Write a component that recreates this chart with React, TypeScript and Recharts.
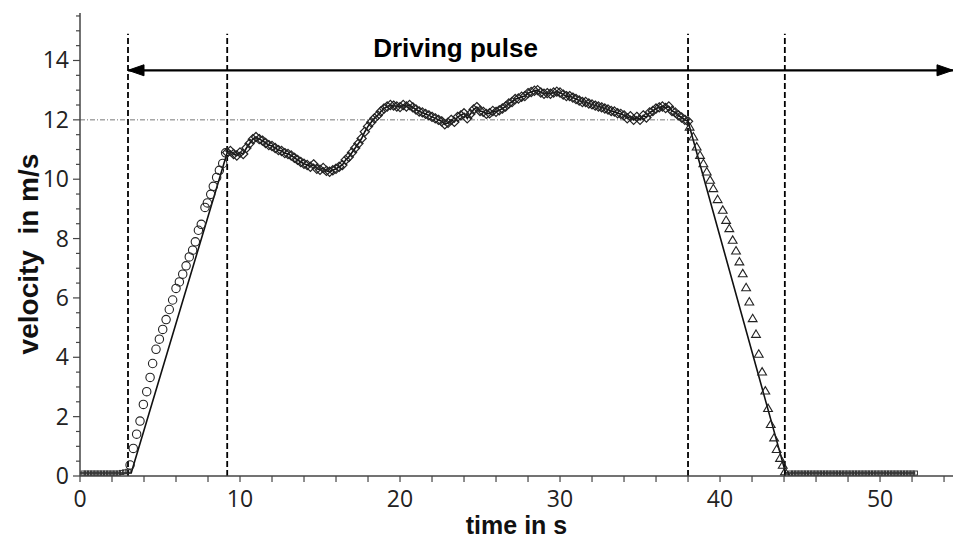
import React from 'react';
import { ComposedChart, Line, Scatter, XAxis, YAxis, ReferenceLine, ReferenceDot } from 'recharts';

// Measured acceleration phase (circles)
const accelT = [3.13, 3.33, 3.54, 3.75, 3.96, 4.17, 4.38, 4.54, 4.75, 4.96, 5.17, 5.38, 5.58, 5.79, 6.0, 6.21, 6.42, 6.63, 6.83, 7.04, 7.21, 7.4, 7.58, 7.81, 7.96, 8.17, 8.33, 8.54, 8.71, 8.92, 9.1];
const accelV = [0.37, 0.93, 1.41, 1.85, 2.41, 2.84, 3.32, 3.79, 4.27, 4.61, 4.94, 5.27, 5.61, 5.93, 6.32, 6.54, 6.8, 7.08, 7.38, 7.61, 7.89, 8.28, 8.48, 9.05, 9.2, 9.49, 9.76, 10.06, 10.3, 10.53, 10.89];

// Measured cruising phase (diamonds)
const cruiseT = [
  9.2, 9.4, 9.6, 9.8, 10.0, 10.2, 10.4, 10.6, 10.8, 11.0, 11.2, 11.4, 11.6, 11.8, 12.0, 12.2, 12.4, 12.6, 12.8, 13.0,
  13.2, 13.4, 13.6, 13.8, 14.0, 14.2, 14.4, 14.6, 14.8, 15.0, 15.2, 15.4, 15.6, 15.8, 16.0, 16.2, 16.4, 16.6, 16.8, 17.0,
  17.2, 17.4, 17.6, 17.8, 18.0, 18.2, 18.4, 18.6, 18.8, 19.0, 19.2, 19.4, 19.6, 19.8, 20.0, 20.2, 20.4, 20.6, 20.8, 21.0,
  21.2, 21.4, 21.6, 21.8, 22.0, 22.2, 22.4, 22.6, 22.8, 23.0, 23.2, 23.4, 23.6, 23.8, 24.0, 24.2, 24.4, 24.6, 24.8, 25.0,
  25.2, 25.4, 25.6, 25.8, 26.0, 26.2, 26.4, 26.6, 26.8, 27.0, 27.2, 27.4, 27.6, 27.8, 28.0, 28.2, 28.4, 28.6, 28.8, 29.0,
  29.2, 29.4, 29.6, 29.8, 30.0, 30.2, 30.4, 30.6, 30.8, 31.0, 31.2, 31.4, 31.6, 31.8, 32.0, 32.2, 32.4, 32.6, 32.8, 33.0,
  33.2, 33.4, 33.6, 33.8, 34.0, 34.2, 34.4, 34.6, 34.8, 35.0, 35.2, 35.4, 35.6, 35.8, 36.0, 36.2, 36.4, 36.6, 36.8, 37.0,
  37.2, 37.4, 37.6, 37.8, 38.0,
];
const cruiseV = [
  10.9, 10.95, 10.85, 10.8, 10.9, 10.85, 11.05, 11.2, 11.35, 11.42, 11.35, 11.3, 11.22, 11.15, 11.12, 11.05, 10.98, 10.95, 10.88, 10.85,
  10.8, 10.72, 10.65, 10.58, 10.52, 10.48, 10.42, 10.5, 10.35, 10.32, 10.38, 10.28, 10.25, 10.3, 10.35, 10.42, 10.48, 10.65, 10.75, 10.9,
  11.05, 11.2, 11.37, 11.6, 11.78, 11.92, 12.05, 12.15, 12.28, 12.38, 12.45, 12.5, 12.48, 12.45, 12.43, 12.5, 12.45, 12.5, 12.42, 12.35,
  12.28, 12.25, 12.2, 12.15, 12.1, 12.05, 12.0, 11.95, 11.85, 11.9, 12.0, 11.93, 12.1, 12.15, 12.22, 12.05, 12.2, 12.35, 12.43, 12.3,
  12.27, 12.2, 12.22, 12.3, 12.27, 12.32, 12.38, 12.45, 12.55, 12.6, 12.7, 12.72, 12.78, 12.8, 12.9, 12.94, 12.98, 13.0, 12.92, 12.88,
  12.9, 12.88, 12.92, 12.95, 12.92, 12.85, 12.8, 12.8, 12.75, 12.7, 12.65, 12.6, 12.6, 12.55, 12.52, 12.48, 12.45, 12.42, 12.38, 12.35,
  12.3, 12.28, 12.22, 12.2, 12.15, 12.05, 12.12, 12.0, 12.1, 12.0, 12.15, 12.08, 12.25, 12.3, 12.38, 12.42, 12.45, 12.4, 12.45, 12.3,
  12.25, 12.15, 12.08, 12.0, 11.95,
];

// Measured deceleration phase (triangles)
const decelT = [38.1, 38.33, 38.54, 38.75, 38.96, 39.17, 39.38, 39.58, 39.85, 40.17, 40.38, 40.58, 40.79, 41.0, 41.21, 41.42, 41.63, 41.83, 42.04, 42.25, 42.42, 42.63, 42.83, 43.0, 43.17, 43.38, 43.54, 43.75, 43.92, 44.06];
const decelV = [11.76, 11.43, 11.09, 10.81, 10.53, 10.25, 9.97, 9.69, 9.32, 8.96, 8.62, 8.34, 7.95, 7.59, 7.22, 6.82, 6.35, 5.87, 5.31, 4.78, 4.11, 3.51, 2.87, 2.28, 1.74, 1.29, 0.9, 0.6, 0.37, 0.15];

// Standstill (small squares)
const idleT = [0.2, 0.4, 0.6, 0.8, 1.0, 1.2, 1.4, 1.6, 1.8, 2.0, 2.2, 2.4, 2.6, 2.8, 3.0,
  44.4, 44.6, 44.8, 45.0, 45.2, 45.4, 45.6, 45.8, 46.0, 46.2, 46.4, 46.6, 46.8, 47.0, 47.2, 47.4, 47.6, 47.8, 48.0, 48.2,
  48.4, 48.6, 48.8, 49.0, 49.2, 49.4, 49.6, 49.8, 50.0, 50.2, 50.4, 50.6, 50.8, 51.0, 51.2, 51.4, 51.6, 51.8, 52.0, 52.2];
const idleV = [0.1, 0.1, 0.1, 0.1, 0.1, 0.1, 0.1, 0.1, 0.1, 0.1, 0.1, 0.1, 0.12, 0.14, 0.16,
  0.1, 0.1, 0.1, 0.1, 0.1, 0.1, 0.1, 0.1, 0.1, 0.1, 0.1, 0.1, 0.1, 0.1, 0.1, 0.1, 0.1, 0.1, 0.1, 0.1,
  0.1, 0.1, 0.1, 0.1, 0.1, 0.1, 0.1, 0.1, 0.1, 0.1, 0.1, 0.1, 0.1, 0.1, 0.1, 0.1, 0.1, 0.1, 0.1, 0.1];

// Model (solid line): ramps
const rampUpT = [0, 3.2, 9.2];
const rampUpV = [0.1, 0.1, 10.9];
const rampDownT = [44.1, 52.2];
const rampDownV = [0.1, 0.1];

// Markers / annotations
const phaseBoundaries = [3.0, 9.2, 38.0, 44.05];
const boundaryTop = 14.9;
const targetSpeed = 12;
const targetEnd = 38.0;
const pulseStart = 3.0;
const pulseEnd = 54.56;
const pulseLevel = 13.67;
const pulseLabel = 'Driving pulse';
const pulseLabelT = 23.47;
const pulseLabelV = 14.43;

const xTicks = [0, 2, 4, 6, 8, 10, 12, 14, 16, 18, 20, 22, 24, 26, 28, 30, 32, 34, 36, 38, 40, 42, 44, 46, 48, 50, 52, 54];
const xMajor = [0, 10, 20, 30, 40, 50];
const yTicks = [0, 0.5, 1, 1.5, 2, 2.5, 3, 3.5, 4, 4.5, 5, 5.5, 6, 6.5, 7, 7.5, 8, 8.5, 9, 9.5, 10, 10.5, 11, 11.5, 12, 12.5, 13, 13.5, 14, 14.5, 15, 15.5];
const yMajor = [0, 2, 4, 6, 8, 10, 12, 14];

const xTitle = 'time in s';
const yTitle = 'velocity  in m/s';

const zip = (ts: number[], vs: number[]) => ts.map((t, i) => ({ t, v: vs[i] }));
const accelData = zip(accelT, accelV);
const cruiseData = zip(cruiseT, cruiseV);
const decelData = zip(decelT, decelV);
const idleData = zip(idleT, idleV);
const modelData = [...zip(rampUpT, rampUpV), ...cruiseData, ...zip(rampDownT, rampDownV)];
const arrowData = [
  { t: pulseStart, v: pulseLevel, dir: -1 },
  { t: pulseEnd, v: pulseLevel, dir: 1 },
];

const TICK_FONT = '"Open Sans", "DejaVu Sans", sans-serif';
const TITLE_FONT = '"Liberation Sans", Arial, sans-serif';
const INK = '#111';

const XTick = (props: any) => {
  const { x, y, payload } = props;
  const major = xMajor.includes(payload.value);
  return (
    <g>
      <line x1={x} x2={x} y1={y} y2={y + 6} stroke="#444" strokeWidth={1.2} />
      {major && (
        <text x={x} y={y + 31} textAnchor="middle" fontFamily={TICK_FONT} fontSize={23} fill="#222">
          {payload.value}
        </text>
      )}
    </g>
  );
};

const YTick = (props: any) => {
  const { x, y, payload } = props;
  const major = yMajor.includes(payload.value);
  return (
    <g>
      <line x1={x} x2={x - (major ? 7 : 4)} y1={y} y2={y} stroke="#444" strokeWidth={1.2} />
      {major && (
        <text x={x - 11} y={y + 8} textAnchor="end" fontFamily={TICK_FONT} fontSize={23} fill="#222">
          {payload.value}
        </text>
      )}
    </g>
  );
};

const CircleShape = (p: any) => <circle cx={p.cx} cy={p.cy} r={4.2} fill="none" stroke="#222" strokeWidth={1.1} />;
const DiamondShape = (p: any) => (
  <polygon
    points={`${p.cx},${p.cy - 4.6} ${p.cx + 4.6},${p.cy} ${p.cx},${p.cy + 4.6} ${p.cx - 4.6},${p.cy}`}
    fill="none"
    stroke="#222"
    strokeWidth={1.2}
  />
);
const TriangleShape = (p: any) => (
  <polygon
    points={`${p.cx},${p.cy - 4.2} ${p.cx + 4.4},${p.cy + 3.2} ${p.cx - 4.4},${p.cy + 3.2}`}
    fill="none"
    stroke="#222"
    strokeWidth={1.1}
  />
);
const SquareShape = (p: any) => (
  <rect x={p.cx - 2.2} y={p.cy - 2} width={4.4} height={4} fill="none" stroke="#333" strokeWidth={1} />
);
const ArrowHead = (p: any) => {
  const d = p.payload.dir;
  const L = 16;
  return (
    <polygon
      points={`${p.cx},${p.cy} ${p.cx - d * L},${p.cy - 5.5} ${p.cx - d * L},${p.cy + 5.5}`}
      fill="#000"
      stroke="#000"
      strokeWidth={1}
    />
  );
};

export default function App() {
  return (
    <div style={{ position: 'absolute', left: 0, top: 0, width: 953, height: 540, background: '#fff' }}>
      <ComposedChart width={953} height={540} margin={{ top: 13, right: 0, bottom: 0, left: 0 }}>
        <XAxis
          type="number"
          dataKey="t"
          domain={[0, pulseEnd]}
          ticks={xTicks}
          interval={0}
          tick={<XTick />}
          tickLine={false}
          tickSize={0}
          tickMargin={0}
          height={64}
          axisLine={{ stroke: '#444', strokeWidth: 1.5 }}
          allowDataOverflow
          label={{
            value: xTitle,
            position: 'insideBottom',
            offset: 6,
            style: { fontFamily: TITLE_FONT, fontSize: 25, fontWeight: 'bold', fill: INK },
          }}
        />
        <YAxis
          type="number"
          dataKey="v"
          domain={[0, 15.6]}
          ticks={yTicks}
          interval={0}
          tick={<YTick />}
          tickLine={false}
          tickSize={0}
          tickMargin={0}
          width={80}
          axisLine={{ stroke: '#444', strokeWidth: 1.5 }}
          allowDataOverflow
          label={{
            content: () => (
              <text
                x={38}
                y={254}
                transform="rotate(-90 38 254)"
                textAnchor="middle"
                fontFamily={TITLE_FONT}
                fontSize={28}
                fontWeight="bold"
                fill={INK}
                style={{ whiteSpace: 'pre' }}
              >
                {yTitle}
              </text>
            ),
          }}
        />
        <ReferenceLine
          segment={[{ x: 0, y: targetSpeed }, { x: targetEnd, y: targetSpeed }]}
          stroke="#777"
          strokeWidth={1}
          strokeDasharray="5 2 1 2"
        />
        {phaseBoundaries.map((b) => (
          <ReferenceLine
            key={b}
            segment={[{ x: b, y: 0 }, { x: b, y: boundaryTop }]}
            stroke="#000"
            strokeWidth={1.8}
            strokeDasharray="6 3"
          />
        ))}
        <ReferenceLine
          segment={[{ x: pulseStart, y: pulseLevel }, { x: pulseEnd, y: pulseLevel }]}
          stroke="#000"
          strokeWidth={2.2}
        />
        <Line data={modelData} dataKey="v" type="linear" stroke={INK} strokeWidth={1.6} dot={false} isAnimationActive={false} />
        <Scatter data={idleData} dataKey="v" shape={SquareShape} isAnimationActive={false} />
        <Scatter data={accelData} dataKey="v" shape={CircleShape} isAnimationActive={false} />
        <Scatter data={cruiseData} dataKey="v" shape={DiamondShape} isAnimationActive={false} />
        <Scatter data={decelData} dataKey="v" shape={TriangleShape} isAnimationActive={false} />
        <Scatter data={arrowData} dataKey="v" shape={ArrowHead} isAnimationActive={false} />
        <ReferenceDot
          x={pulseLabelT}
          y={pulseLabelV}
          r={0}
          fill="none"
          stroke="none"
          label={{
            value: pulseLabel,
            position: 'center',
            style: { fontFamily: TITLE_FONT, fontSize: 26, fontWeight: 'bold', fill: '#000' },
          }}
        />
      </ComposedChart>
    </div>
  );
}
